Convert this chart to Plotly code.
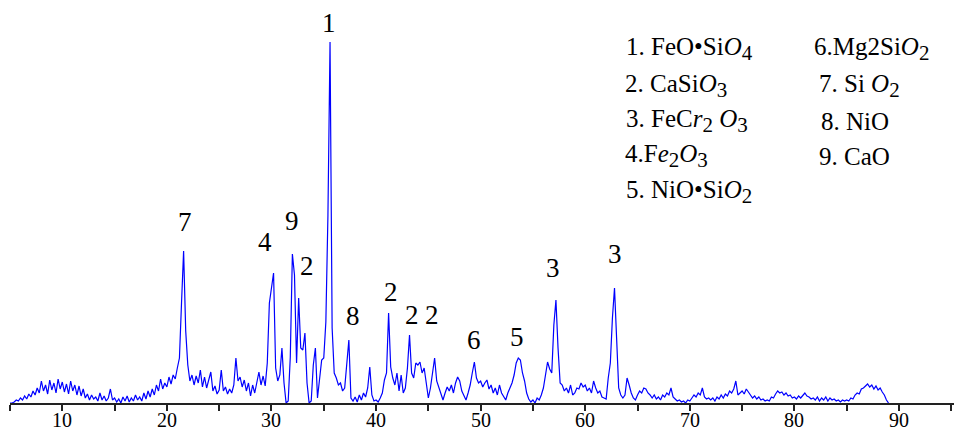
import plotly.graph_objects as go

# XRD scan: 2-theta grid (regular instrument step) and intensities
SCAN_START = 5.0
SCAN_STEP = 0.2

i_05 = [0, 0, 1, 3, 2, 5, 3, 7, 4, 9, 6, 12, 8, 15, 10, 22, 12, 18, 9, 23, 13, 20, 10, 24, 14]
i_10 = [21, 11, 19, 9, 22, 12, 18, 8, 17, 7, 14, 5, 9, 3, 8, 4, 6, 2, 10, 3, 7, 2, 5, 14, 3]
i_15 = [5, 1, 4, 0, 6, 2, 7, 1, 5, 2, 8, 3, 6, 2, 10, 4, 12, 6, 14, 8, 18, 12, 24, 14, 20]
i_20 = [16, 26, 19, 28, 24, 35, 45, 100, 152, 72, 38, 22, 28, 18, 27, 20, 33, 16, 26, 15, 22, 31, 12, 17, 9]
i_25 = [13, 33, 12, 16, 9, 14, 10, 18, 45, 22, 26, 16, 23, 12, 20, 7, 18, 10, 22, 31, 18, 27, 17, 40, 100]
i_30 = [118, 130, 35, 22, 28, 55, 20, 0, 2, 46, 149, 128, 40, 105, 55, 53, 70, 20, 0, 2, 38, 55, 5, 24, 43]
i_35 = [45, 81, 188, 361, 75, 30, 25, 18, 20, 12, 15, 40, 63, 5, 2, 6, 1, 8, 3, 10, 6, 15, 36, 8, 2]
i_40 = [3, 1, 5, 10, 23, 30, 90, 36, 25, 18, 30, 12, 28, 10, 15, 35, 68, 30, 25, 40, 38, 41, 30, 35, 20]
i_45 = [5, 15, 30, 45, 22, 15, 8, 3, 10, 16, 12, 18, 10, 20, 26, 22, 12, 8, 3, 10, 18, 30, 41, 25, 20]
i_50 = [22, 16, 20, 23, 14, 18, 10, 15, 8, 18, 10, 6, 3, 10, 15, 20, 28, 40, 45, 43, 30, 22, 10, 4, 1]
i_55 = [3, 0, 5, 3, 8, 15, 30, 41, 34, 30, 78, 103, 55, 20, 18, 12, 15, 10, 18, 8, 10, 15, 14, 20, 16]
i_60 = [18, 12, 15, 10, 22, 15, 10, 12, 6, 5, 4, 25, 40, 85, 115, 65, 15, 8, 5, 8, 25, 18, 10, 5, 3]
i_65 = [8, 12, 10, 15, 14, 10, 8, 5, 8, 4, 6, 3, 8, 6, 10, 8, 15, 6, 4, 2, 3, 1, 2, 0, 3]
i_70 = [2, 5, 8, 6, 10, 8, 15, 6, 4, 5, 3, 5, 2, 6, 4, 8, 5, 9, 7, 12, 10, 14, 22, 8, 10]
i_75 = [12, 9, 14, 11, 8, 5, 7, 4, 6, 3, 4, 2, 3, 2, 6, 5, 9, 12, 10, 11, 8, 10, 7, 8, 5]
i_80 = [6, 4, 7, 5, 8, 10, 7, 6, 4, 5, 3, 6, 2, 5, 3, 6, 2, 5, 3, 4, 2, 3, 1, 3, 2]
i_85 = [3, 2, 5, 4, 8, 10, 9, 14, 15, 17, 19, 16, 18, 14, 17, 13, 15, 11, 8, 3, 0, None, None, None, None]

intensity = (i_05 + i_10 + i_15 + i_20 + i_25 + i_30 + i_35 + i_40 + i_45
             + i_50 + i_55 + i_60 + i_65 + i_70 + i_75 + i_80 + i_85)
two_theta = [round(SCAN_START + SCAN_STEP * k, 1) for k in range(len(intensity))]

# peak labels
peak_labels = ["1", "7", "4", "9", "2", "8", "2", "2", "2", "6", "5", "3", "3"]
peak_label_x = [35.50, 21.73, 29.38, 31.96, 33.37, 37.77, 41.41, 43.41, 45.32, 49.41, 53.45, 56.95, 62.84]
peak_label_y = [380, 181, 161, 182, 137, 87, 111, 88, 88, 63, 66, 135, 149]

# x tick labels (labelled every 10, ticks every 5)
tick_vals = list(range(5, 100, 5))
label_vals = [10, 20, 30, 40, 50, 60, 70, 80, 90]
label_text = ["10", "20", "30", "40", "50", "60", "70", "80", "90"]


def sub(s):
    return '<sub><span style="font-size:21px">' + s + '</span></sub>'


# phase legend
legend_col1 = ["1. FeO•Si<i>O</i>" + sub("4"), "2. CaSi<i>O</i>" + sub("3"),
               "3. FeC<i>r</i>" + sub("2") + " <i>O</i>" + sub("3"),
               "4.F<i>e</i>" + sub("2") + "<i>O</i>" + sub("3"), "5. NiO•Si<i>O</i>" + sub("2")]
legend_col2 = ["6.Mg2Si<i>O</i>" + sub("2"), "7. Si <i>O</i>" + sub("2"), "8. NiO", "9. CaO"]

SERIF = "Liberation Serif, Times New Roman, serif"

fig = go.Figure()
fig.add_trace(go.Scatter(x=two_theta, y=intensity, mode="lines",
                         line=dict(color="#0000FF", width=1.2), connectgaps=False,
                         hoverinfo="skip", showlegend=False))

for t, xv, yv in zip(peak_labels, peak_label_x, peak_label_y):
    fig.add_annotation(x=xv, y=yv, xref="x", yref="y", text=t, showarrow=False,
                       xanchor="center", yanchor="middle",
                       font=dict(family=SERIF, size=27, color="black"))

for t, xv in zip(label_text, label_vals):
    fig.add_annotation(x=xv, y=0, xref="x", yref="paper", text=t, showarrow=False,
                       xanchor="center", yanchor="middle", yshift=-17,
                       font=dict(family=SERIF, size=20, color="black"))

W, H, L = 954, 403, 10
col1_px = [624, 623, 624, 623, 624]
col2_px = [812, 817, 819, 817]
row_px = [49, 86, 121, 156, 192]

for k, t in enumerate(legend_col1):
    fig.add_annotation(x=(col1_px[k] - L) / (W - L), y=1 - row_px[k] / H, xref="paper", yref="paper",
                       text=t, showarrow=False, xanchor="left", yanchor="middle",
                       font=dict(family=SERIF, size=25, color="black"))
for k, t in enumerate(legend_col2):
    fig.add_annotation(x=(col2_px[k] - L) / (W - L), y=1 - row_px[k] / H, xref="paper", yref="paper",
                       text=t, showarrow=False, xanchor="left", yanchor="middle",
                       font=dict(family=SERIF, size=25, color="black"))

fig.update_layout(
    width=954, height=438,
    margin=dict(l=L, r=0, t=0, b=35),
    paper_bgcolor="white", plot_bgcolor="white",
    xaxis=dict(range=[5, 95.26], showline=True, linecolor="#222222", linewidth=1.5,
               ticks="outside", ticklen=6, tickwidth=1.5, tickcolor="#222222",
               tickmode="array", tickvals=tick_vals, showticklabels=False,
               showgrid=False, zeroline=False),
    yaxis=dict(range=[0, 403], visible=False, fixedrange=True),
    showlegend=False,
)

fig.write_html("out.html")
